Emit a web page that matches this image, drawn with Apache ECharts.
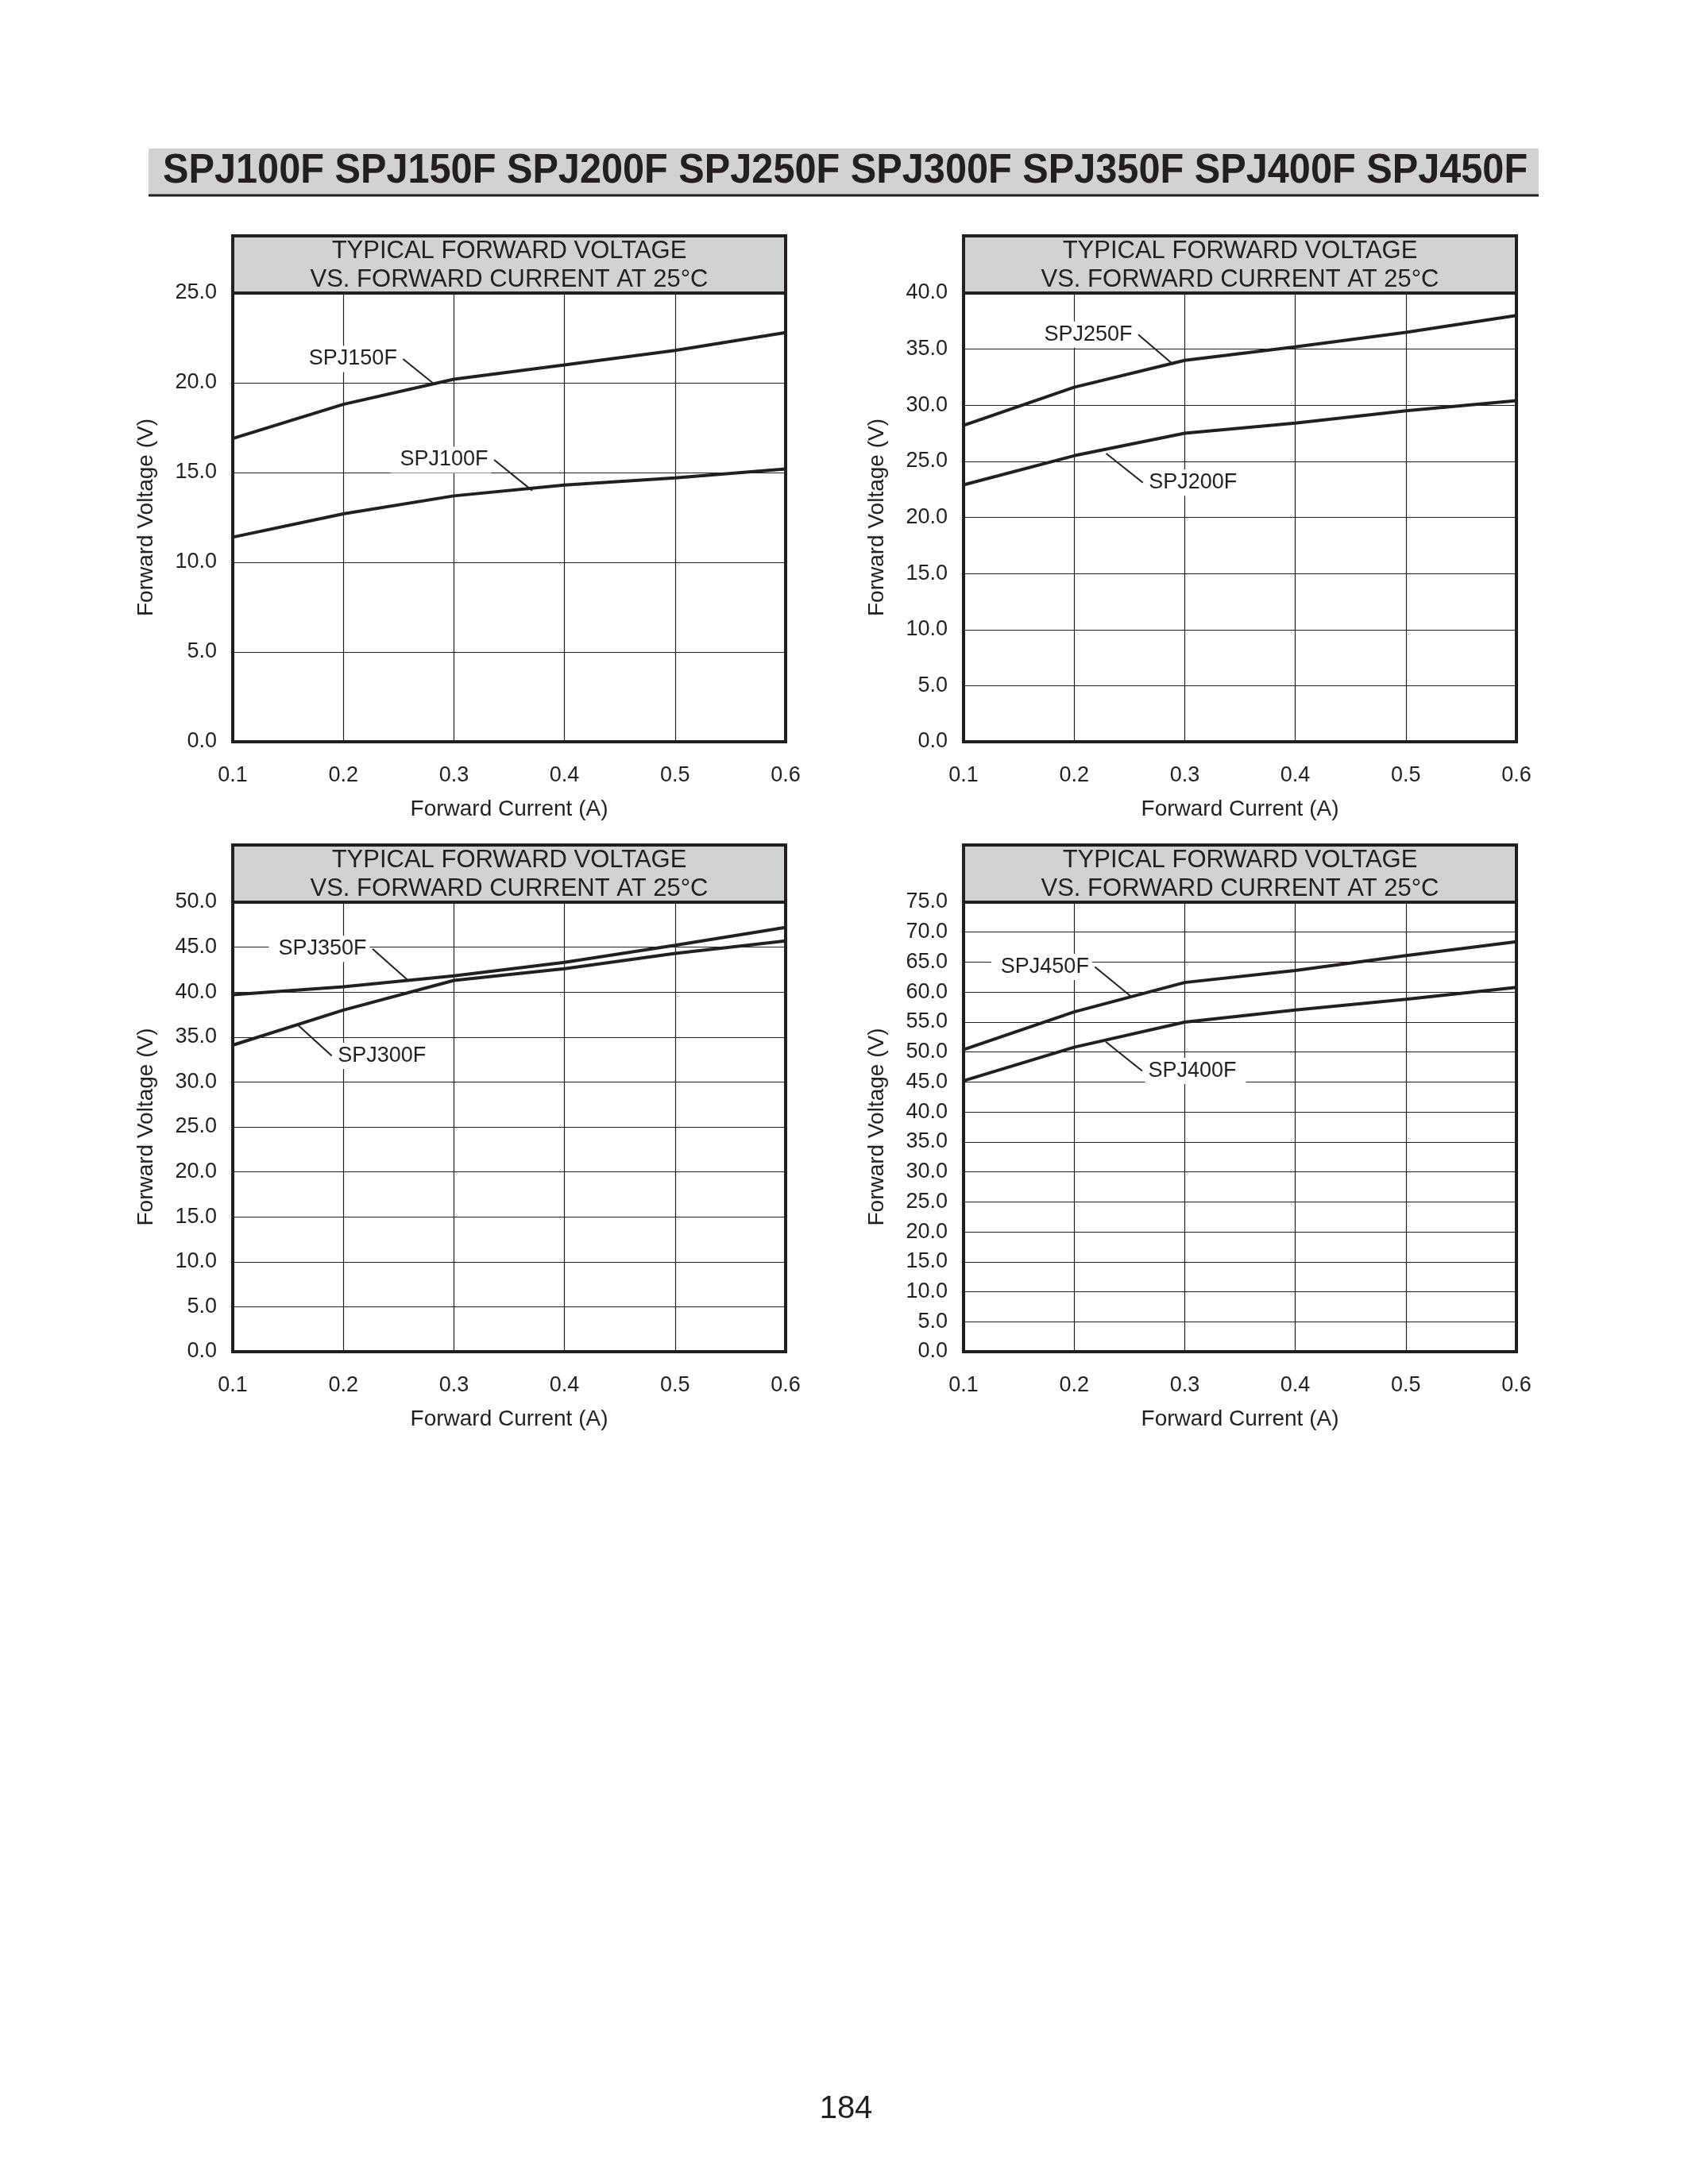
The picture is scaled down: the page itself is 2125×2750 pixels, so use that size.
<!DOCTYPE html>
<html>
<head>
<meta charset="utf-8">
<title>SPJ forward voltage</title>
<script src="https://cdn.jsdelivr.net/npm/echarts@6/dist/echarts.min.js"></script>
<style>
  html, body { margin: 0; padding: 0; background: #ffffff; }
  #page { width: 2125px; height: 2750px; }
</style>
</head>
<body>
<div id="page"></div>
<script>
// forward current (A), shared by all four charts
const current = [0.1, 0.2, 0.3, 0.4, 0.5, 0.6];

// forward voltage (V)
const spj100f = [11.4, 12.7, 13.7, 14.3, 14.7, 15.2];
const spj150f = [16.9, 18.8, 20.2, 21.0, 21.8, 22.8];
const spj200f = [22.9, 25.5, 27.5, 28.4, 29.5, 30.4];
const spj250f = [28.2, 31.6, 34.0, 35.2, 36.5, 38.0];
const spj300f = [34.1, 38.0, 41.3, 42.6, 44.3, 45.7];
const spj350f = [39.7, 40.6, 41.8, 43.3, 45.2, 47.2];
const spj400f = [45.2, 50.8, 55.0, 57.0, 58.8, 60.8];
const spj450f = [50.4, 56.7, 61.6, 63.6, 66.1, 68.4];

// y-axis top of each chart
const yMax = [25, 40, 50, 75];

// callouts: leader line in data coords, label sits at the free end
const callouts = {
  SPJ150F: { side: 'left',  from: [0.254, 21.33], to: [0.2825, 19.91] },
  SPJ100F: { side: 'left',  from: [0.3364, 15.71], to: [0.3707, 14.0] },
  SPJ250F: { side: 'left',  from: [0.258, 36.3], to: [0.2897, 33.63] },
  SPJ200F: { side: 'right', from: [0.229, 25.7], to: [0.2622, 23.1] },
  SPJ350F: { side: 'left',  from: [0.2264, 44.8], to: [0.2586, 41.3] },
  SPJ300F: { side: 'right', from: [0.1584, 36.4], to: [0.1896, 32.9] },
  SPJ450F: { side: 'left',  from: [0.2188, 64.2], to: [0.252, 59.2] },
  SPJ400F: { side: 'right', from: [0.2286, 51.7], to: [0.2616, 46.84] }
};

const ink = '#231f20';
const font = 'Liberation Sans';

// plot boxes on the page
const boxes = [
  { left: 293, top: 369, width: 696, height: 565 },
  { left: 1213, top: 369, width: 696, height: 565 },
  { left: 293, top: 1136, width: 696, height: 566 },
  { left: 1213, top: 1136, width: 696, height: 566 }
];

const seriesDefs = [
  { name: 'SPJ100F', data: spj100f, chart: 0 },
  { name: 'SPJ150F', data: spj150f, chart: 0 },
  { name: 'SPJ200F', data: spj200f, chart: 1 },
  { name: 'SPJ250F', data: spj250f, chart: 1 },
  { name: 'SPJ300F', data: spj300f, chart: 2 },
  { name: 'SPJ350F', data: spj350f, chart: 2 },
  { name: 'SPJ400F', data: spj400f, chart: 3 },
  { name: 'SPJ450F', data: spj450f, chart: 3 }
];

let grids = [], xAxes = [], yAxes = [], series = [], graphics = [];

boxes.forEach((b, i) => {
  grids.push({
    left: b.left, top: b.top, width: b.width, height: b.height,
    show: true, borderColor: ink, borderWidth: 4, backgroundColor: '#fff'
  });
  xAxes.push({
    type: 'value', gridIndex: i, min: 0.1, max: 0.6, interval: 0.1,
    name: 'Forward Current (A)', nameLocation: 'middle', nameGap: 71,
    nameTextStyle: { fontFamily: font, fontSize: 28, color: ink },
    axisLine: { show: false }, axisTick: { show: false },
    axisLabel: {
      margin: 29, fontFamily: font, fontSize: 27, color: ink,
      formatter: v => v.toFixed(1)
    },
    splitLine: { show: true, lineStyle: { color: ink, width: 1.2 } }
  });
  yAxes.push({
    type: 'value', gridIndex: i, min: 0, max: yMax[i], interval: 5,
    name: 'Forward Voltage (V)', nameLocation: 'middle', nameGap: 95,
    nameTextStyle: { fontFamily: font, fontSize: 28, color: ink },
    axisLine: { show: false }, axisTick: { show: false },
    axisLabel: {
      margin: 20, fontFamily: font, fontSize: 27, color: ink,
      formatter: v => v.toFixed(1)
    },
    splitLine: { show: true, lineStyle: { color: ink, width: 1.2 } }
  });
  // grey caption box above each plot
  graphics.push({
    type: 'rect', z: 10,
    shape: { x: b.left, y: b.top - 72, width: b.width, height: 72 },
    style: { fill: '#d1d2d4', stroke: ink, lineWidth: 4 }
  });
  graphics.push({
    type: 'text', z: 11, x: b.left + b.width / 2, y: b.top - 35,
    style: {
      text: 'TYPICAL FORWARD VOLTAGE\nVS. FORWARD CURRENT AT 25°C',
      fontFamily: font, fontSize: 31, lineHeight: 36, fill: ink,
      align: 'center', verticalAlign: 'middle'
    }
  });
});

seriesDefs.forEach(s => {
  const c = callouts[s.name];
  const labelAt = c.side === 'left' ? c.from : c.to;
  series.push({
    type: 'line', name: s.name,
    xAxisIndex: s.chart, yAxisIndex: s.chart,
    data: current.map((x, k) => [x, s.data[k]]),
    symbol: 'none', smooth: false,
    lineStyle: { color: ink, width: 4 },
    markLine: {
      silent: true, symbol: ['none', 'none'],
      label: { show: false },
      lineStyle: { color: ink, width: 2, type: 'solid' },
      data: [[{ coord: c.from }, { coord: c.to }]]
    },
    markPoint: {
      silent: true, symbol: 'circle', symbolSize: 1,
      itemStyle: { color: 'rgba(0,0,0,0)' },
      label: {
        show: true, position: c.side, distance: 3,
        formatter: s.name,
        fontFamily: font, fontSize: 27, color: ink,
        backgroundColor: '#fff',
        padding: c.side === 'left' ? [3, 4, 3, 12] : [3, 12, 3, 4]
      },
      data: [{ coord: labelAt }]
    }
  });
});

// page heading bar
graphics.push({
  type: 'rect', shape: { x: 187, y: 187, width: 1750, height: 58 },
  style: { fill: '#d1d2d4' }
});
graphics.push({
  type: 'line', shape: { x1: 187, y1: 246, x2: 1937, y2: 246 },
  style: { stroke: ink, lineWidth: 3 }
});
graphics.push({
  type: 'text', x: 205, y: 216, scaleX: 0.936,
  style: {
    text: 'SPJ100F SPJ150F SPJ200F SPJ250F SPJ300F SPJ350F SPJ400F SPJ450F',
    fontFamily: font, fontWeight: 'bold', fontSize: 52, fill: ink,
    align: 'left', verticalAlign: 'middle'
  }
});
// page number
graphics.push({
  type: 'text', x: 1065, y: 2656,
  style: {
    text: '184', fontFamily: font, fontSize: 40, fill: ink,
    align: 'center', verticalAlign: 'middle'
  }
});

const myChart = echarts.init(document.getElementById('page'));
myChart.setOption({
  animation: false,
  backgroundColor: '#ffffff',
  grid: grids,
  xAxis: xAxes,
  yAxis: yAxes,
  series: series,
  graphic: graphics
});
</script>
</body>
</html>
